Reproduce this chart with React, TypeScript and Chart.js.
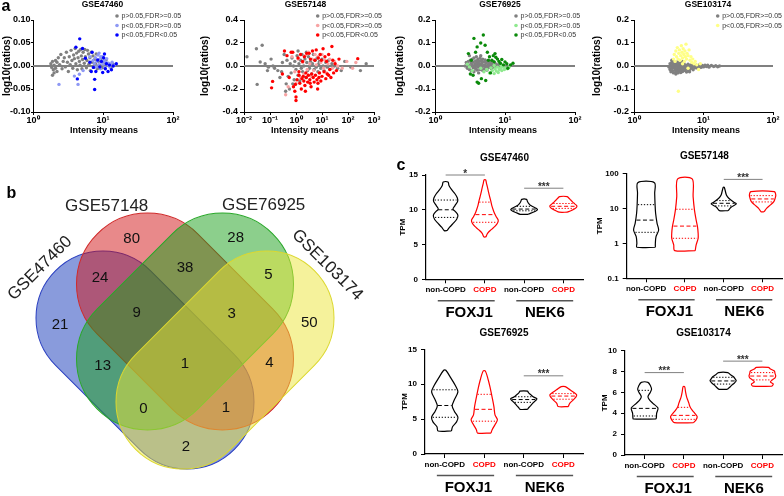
import React, { useEffect, useRef } from 'react';
import { Chart, registerables } from 'chart.js';

Chart.register(...registerables);

const FONT = "'Liberation Sans', Arial, Helvetica, sans-serif";
Chart.defaults.font.family = FONT;

/* ===================== Panel a : scatter data ===================== */
const A_LEGEND = ['p>0.05,FDR>=0.05', 'p<0.05,FDR>=0.05', 'p<0.05,FDR<0.05'];
const A_X_TITLE = 'Intensity means';
const A_Y_TITLE = 'log10(ratios)';

const X_TICKS_NARROW = [1, 10, 100];
const X_LABELS_NARROW = ['10⁰', '10¹', '10²'];
const X_TICKS_WIDE = [0.01, 0.1, 1, 10, 100, 1000];
const X_LABELS_WIDE = ['10⁻²', '10⁻¹', '10⁰', '10¹', '10²', '10³'];
const Y_TICKS_A1 = [-0.1, -0.05, 0, 0.05, 0.1];
const Y_LABELS_A1 = ['-0.10', '-0.05', '0.00', '0.05', '0.10'];
const Y_TICKS_A2 = [-0.4, -0.2, 0, 0.2, 0.4];
const Y_LABELS_A2 = ['-0.4', '-0.2', '0.0', '0.2', '0.4'];
const Y_TICKS_A34 = [-0.2, -0.1, 0, 0.1, 0.2];
const Y_LABELS_A34 = ['-0.2', '-0.1', '0.0', '0.1', '0.2'];

// GSE47460
const GSE47460_NS = [[1.8,0.005],[1.85,-0.003],[1.9,0.01],[1.95,-0.008],[2.0,0.002],[2.0,-0.015],[1.9,-0.02],[2.1,0.012],[2.1,-0.005],[2.2,0.008],[2.2,-0.012],[2.3,0.018],[2.4,0.003],[2.5,0.025],[2.6,-0.006],[2.7,0.01],[2.8,0.018],[2.9,-0.002],[3.0,0.03],[3.1,0.008],[3.2,-0.012],[3.3,0.02],[3.4,0.003],[3.5,0.034],[3.6,0.012],[3.7,-0.005],[3.8,0.024],[3.9,0.016],[4.0,0.038],[4.1,0.005],[4.2,0.028],[4.3,-0.008],[4.4,0.018],[4.5,0.032],[4.6,0.01],[4.7,0.002],[4.8,0.036],[4.9,0.022],[5.0,-0.006],[5.1,0.014],[5.2,0.03],[5.4,0.006],[5.5,0.036],[5.6,0.02],[5.8,-0.004],[5.9,0.012],[6.0,0.034],[6.2,0.026],[6.3,0.004],[6.5,0.018],[6.6,-0.01],[6.8,0.03],[7.0,0.008],[7.2,0.022],[7.4,-0.003],[7.6,0.014],[7.8,0.005],[8.0,0.026],[8.3,-0.006],[8.6,0.01],[9.0,0.002],[9.4,0.016],[9.8,-0.004],[10.5,0.006],[11,0.012],[12,0.002],[13,-0.004],[14,0.004]];
const GSE47460_P = [[2.35,-0.04],[3.9,-0.022],[4.4,-0.04],[4.6,-0.018],[5.2,-0.01],[6.5,0.02],[7.2,0.012],[7.5,0.005],[7.8,0.018],[8.0,-0.002],[8.2,0.01],[8.5,0.024],[8.7,0.003],[9.0,0.015],[9.2,-0.006],[9.5,0.008],[9.8,0.02],[10,0.004],[10.3,0.012],[10.6,-0.003],[11,0.008],[11.3,0.016],[11.7,0.002],[12,0.006],[12.5,-0.002],[13,0.004],[13.5,0.008],[14.5,0.002],[8.8,0.028],[9.3,0.02]];
const GSE47460_FDR = [[4.65,0.059],[4.1,0.041],[5.1,0.038],[4.3,-0.028],[5.6,0.017],[6.5,0.008],[7.0,0.03],[7.3,-0.003],[7.6,-0.029],[7.6,-0.051],[7.9,-0.012],[8.4,0.013],[9.0,-0.002],[9.5,0.01],[9.9,-0.014],[10.2,0.018],[10.8,-0.006],[11.2,0.005],[11.8,-0.012],[12.4,0.002],[13.2,-0.008],[14,0.0],[15.5,0.005],[6.8,-0.012],[10.5,0.026]];

// GSE57148
const GSE57148_NS = [[0.013,0.08],[0.03,0.15],[0.05,0.18],[0.032,-0.16],[0.042,0.035],[0.065,0.02],[0.087,-0.01],[0.08,-0.04],[0.11,0.06],[0.13,0.0],[0.15,-0.02],[0.2,-0.04],[0.24,-0.1],[0.28,-0.05],[0.3,0.03],[0.35,0.1],[0.4,-0.22],[0.42,-0.155],[0.45,0.05],[0.5,-0.09],[0.56,-0.2],[0.6,0.02],[0.65,-0.06],[0.7,0.07],[0.75,-0.155],[0.8,0.0],[0.85,-0.12],[0.9,0.04],[1.0,-0.03],[1.1,0.09],[1.2,-0.08],[1.3,0.02],[1.4,-0.13],[1.5,0.05],[1.6,-0.02],[1.7,0.1],[1.8,-0.05],[2.0,0.0],[2.2,0.06],[2.4,-0.1],[2.6,0.03],[2.8,-0.04],[3.0,0.08],[3.3,-0.02],[3.6,0.04],[4.0,-0.07],[4.3,0.02],[4.7,0.1],[5.0,-0.03],[5.5,0.05],[6.0,-0.01],[6.5,0.07],[7.0,-0.05],[7.5,0.02],[8.0,0.04],[9.0,-0.02],[10,0.06],[11,0.0],[12,-0.04],[14,0.03],[16,-0.01],[18,0.05],[20,-0.03],[24,0.02],[30,0.0],[40,-0.02],[55,-0.04],[75,0.04],[130,-0.01],[300,-0.04],[500,0.02],[2.5,0.12],[1.2,0.13]];
const GSE57148_P = [[0.4,-0.25],[0.5,-0.18],[0.7,0.08],[0.9,-0.05],[1.0,-0.15],[1.2,0.06],[1.5,-0.1],[1.8,0.03],[2.0,-0.07],[2.3,0.09],[2.7,-0.03],[3.0,0.12],[3.4,0.02],[3.8,-0.09],[4.2,0.06],[4.8,-0.04],[5.4,0.1],[6.0,0.01],[7.0,0.08],[8.0,-0.06],[9.0,0.03],[10,0.1],[11.5,-0.02],[13,0.05],[15,-0.06],[17,0.02],[20,0.06],[25,-0.02],[30,0.04],[40,0.0],[60,-0.02],[90,0.04],[150,-0.02],[200,0.03]];
const GSE57148_FDR = [[0.115,-0.19],[0.126,-0.134],[0.3,-0.07],[0.36,0.13],[0.45,0.09],[0.55,-0.1],[0.65,0.12],[0.75,0.12],[0.8,-0.18],[0.9,-0.22],[1.0,-0.27],[1.0,-0.3],[1.1,-0.12],[1.2,0.07],[1.3,-0.08],[1.4,-0.15],[1.5,0.1],[1.6,-0.2],[1.7,-0.11],[1.8,0.04],[1.9,-0.09],[2.0,-0.13],[2.1,0.08],[2.2,-0.17],[2.4,-0.06],[2.5,-0.1],[2.6,0.11],[2.8,-0.14],[3.0,-0.08],[3.2,0.11],[3.4,-0.12],[3.6,0.06],[3.8,-0.18],[4.0,-0.07],[4.3,0.13],[4.6,-0.1],[5.0,-0.14],[5.3,0.05],[5.6,-0.08],[6.0,0.14],[6.4,-0.12],[6.8,-0.2],[7.2,0.07],[7.6,-0.1],[8.0,-0.06],[8.5,0.1],[9.0,-0.13],[9.5,0.05],[10,-0.09],[11,0.15],[12,-0.05],[13,0.08],[14,-0.11],[15,0.04],[16,-0.07],[18,0.1],[20,-0.03],[22,-0.1],[24,0.17],[26,0.05],[28,-0.06],[32,0.02],[36,-0.04],[45,0.06],[237,0.064],[1.3,-0.05],[2.3,-0.22],[0.95,-0.16],[3.5,-0.15],[7,-0.15],[18,-0.08]];

// GSE76925
const GSE76925_NS = [[2.7,0.0],[2.8,0.015],[2.9,-0.01],[3.0,0.02],[3.0,0.005],[3.1,-0.015],[3.2,0.025],[3.2,0.0],[3.3,0.012],[3.3,-0.02],[3.4,0.03],[3.4,0.004],[3.5,-0.008],[3.5,0.018],[3.6,0.035],[3.6,-0.025],[3.7,0.01],[3.7,-0.002],[3.8,0.022],[3.8,-0.012],[3.9,0.04],[3.9,0.006],[4.0,-0.018],[4.0,0.016],[4.1,0.028],[4.1,-0.005],[4.2,0.01],[4.2,-0.03],[4.3,0.02],[4.3,0.0],[4.4,0.035],[4.4,-0.015],[4.5,0.008],[4.6,0.024],[4.6,-0.008],[4.7,0.014],[4.8,-0.02],[4.8,0.03],[4.9,0.002],[5.0,0.018],[5.0,-0.012],[5.2,0.026],[5.2,0.006],[5.3,-0.004],[5.4,0.015],[5.5,-0.018],[5.6,0.022],[5.7,0.004],[5.8,-0.008],[5.9,0.012],[6.0,0.02],[6.1,-0.002],[6.2,0.008],[6.4,-0.012],[6.5,0.014],[6.7,0.002],[6.9,0.018],[7.0,-0.006],[7.3,0.01],[7.6,0.0],[8.0,0.006],[8.5,-0.004],[3.1,0.045],[4.5,0.045]];
const GSE76925_P = [[2.9,0.008],[3.1,-0.004],[3.4,-0.02],[4.5,-0.01],[5.0,-0.025],[5.5,-0.015],[6.0,-0.03],[6.3,-0.008],[6.6,-0.02],[7.0,-0.033],[7.2,-0.012],[7.5,-0.022],[7.8,-0.005],[8.0,-0.028],[8.3,-0.015],[8.6,-0.01],[9.0,-0.02],[9.4,-0.005],[9.8,-0.015],[10.2,-0.008],[10.8,-0.012],[11.5,-0.004],[7.0,0.002],[8.8,0.002]];
const GSE76925_FDR = [[3.0,0.054],[3.3,0.025],[3.5,-0.04],[3.6,0.12],[3.8,0.06],[4.0,0.083],[4.0,-0.07],[4.2,-0.075],[4.5,0.1],[4.9,0.135],[5.2,0.09],[4.6,-0.055],[5.3,-0.063],[5.6,0.06],[6.0,0.04],[6.2,-0.03],[6.5,0.025],[6.8,0.045],[7.2,0.054],[7.4,0.038],[7.8,0.03],[8.2,0.02],[8.6,0.012],[9.0,0.028],[9.5,0.005],[10.0,0.018],[10.6,0.01],[11.0,-0.01],[12.0,0.005],[13.0,0.012],[3.2,-0.035],[5.8,0.025],[7.0,0.018]];

// GSE103174
const GSE103174_NS = [[3.2,-0.005],[3.3,0.01],[3.3,-0.015],[3.4,-0.025],[3.4,0.0],[3.5,0.015],[3.5,-0.01],[3.6,-0.02],[3.6,0.005],[3.7,-0.03],[3.7,0.02],[3.8,-0.008],[3.8,0.008],[3.9,-0.018],[3.9,-0.002],[4.0,0.012],[4.0,-0.025],[4.1,-0.012],[4.1,0.004],[4.2,-0.02],[4.2,0.018],[4.3,-0.006],[4.3,-0.03],[4.4,0.01],[4.4,-0.015],[4.5,0.0],[4.5,-0.022],[4.6,0.008],[4.6,-0.01],[4.7,-0.028],[4.7,0.014],[4.8,-0.004],[4.8,-0.018],[4.9,0.006],[5.0,-0.012],[5.0,-0.024],[5.1,0.002],[5.2,-0.016],[5.2,0.012],[5.3,-0.006],[5.4,-0.02],[5.5,0.004],[5.6,-0.012],[5.7,-0.026],[5.8,0.0],[5.9,-0.014],[6.0,0.008],[6.1,-0.008],[6.2,-0.02],[6.4,0.002],[6.5,-0.012],[6.7,0.006],[6.9,-0.006],[7.1,-0.016],[7.3,0.002],[7.6,-0.008],[7.9,0.004],[8.2,-0.01],[8.5,-0.002],[8.8,0.006],[9.2,-0.006],[9.6,0.002],[10,-0.004],[10.5,0.004],[11,-0.002],[11.5,0.003],[12,-0.005],[13,0.002],[14,-0.002],[15,0.001],[16,-0.003],[17,0.0],[4.0,-0.035],[5.0,0.02],[3.5,0.025],[6.3,-0.025]];
const GSE103174_P = [[3.7,0.03],[3.8,0.05],[3.9,0.02],[4.0,0.065],[4.1,0.04],[4.2,0.08],[4.3,0.03],[4.35,-0.11],[4.4,0.055],[4.5,0.07],[4.6,0.025],[4.7,0.045],[4.8,0.088],[4.9,0.06],[5.0,0.035],[5.1,0.075],[5.2,0.05],[5.3,0.02],[5.4,0.065],[5.5,0.04],[5.6,0.095],[5.7,0.03],[5.8,0.055],[6.0,0.045],[6.2,0.07],[6.4,0.025],[6.6,0.04],[6.8,0.015],[7.0,0.03],[7.3,0.01],[7.6,0.02],[8.0,0.005],[8.5,-0.015],[9.0,0.01],[6.0,-0.01],[5.0,0.01]];

/* ===================== Panel b : Venn data ===================== */
const VENN_SETS = ['GSE47460', 'GSE57148', 'GSE76925', 'GSE103174'];
// regions: A, B, C, D, AB, BC, CD, ABC, BCD, AC, ABCD, BD, ACD, ABD, AD
const VENN_REGIONS = ['A', 'B', 'C', 'D', 'AB', 'BC', 'CD', 'ABC', 'BCD', 'AC', 'ABCD', 'BD', 'ACD', 'ABD', 'AD'];
const VENN_COUNTS = [21, 80, 28, 50, 24, 38, 5, 9, 3, 13, 1, 4, 0, 1, 2];

/* ===================== Panel c : violin data ===================== */
const CATEGORIES = ['non-COPD', 'COPD', 'non-COPD', 'COPD'];
const GENES = ['FOXJ1', 'NEK6'];
const C_Y_TITLE = 'TPM';

const GSE47460_VIOLINS = [
  { levels: [7.0, 7.5, 8.0, 8.6, 9.2, 9.7, 10.1, 10.6, 11.2, 11.7, 12.3, 12.9, 13.5, 14.0], density: [0.1, 0.3, 0.55, 0.82, 0.92, 0.75, 0.55, 0.7, 0.9, 0.88, 0.7, 0.45, 0.25, 0.18], q1: 8.9, median: 10.0, q3: 11.4 },
  { levels: [6.1, 6.6, 7.1, 7.6, 8.1, 8.5, 9.0, 9.5, 10.0, 10.6, 11.2, 11.8, 12.5, 13.2, 13.8, 14.3], density: [0.08, 0.2, 0.45, 0.75, 0.95, 1.0, 0.85, 0.72, 0.62, 0.52, 0.45, 0.37, 0.28, 0.2, 0.12, 0.06], q1: 8.2, median: 9.3, q3: 11.1 },
  { levels: [9.35, 9.55, 9.8, 10.0, 10.15, 10.35, 10.6, 10.9, 11.2, 11.5], density: [0.3, 0.55, 0.85, 1.0, 0.95, 0.75, 0.5, 0.35, 0.25, 0.18], q1: 9.85, median: 10.1, q3: 10.5 },
  { levels: [9.65, 9.9, 10.15, 10.4, 10.6, 10.85, 11.1, 11.4, 11.7, 11.9], density: [0.3, 0.6, 0.85, 1.0, 1.0, 0.85, 0.7, 0.55, 0.4, 0.28], q1: 10.2, median: 10.5, q3: 10.9 },
];
const GSE57148_VIOLINS = [
  { levels: [0.77, 1.0, 1.55, 2.4, 3.7, 7.2, 12.4, 26.8, 54], density: [0.7, 0.7, 0.75, 0.95, 0.83, 0.72, 0.68, 0.65, 0.63], q1: 2.06, median: 4.6, q3: 12.7 },
  { levels: [0.62, 0.9, 1.39, 1.93, 3.0, 4.6, 9, 21.5, 69], density: [0.78, 0.85, 1.0, 1.0, 0.95, 0.85, 0.72, 0.62, 0.55], q1: 1.39, median: 3.1, q3: 9.4 },
  { levels: [8.6, 10.7, 13.3, 14.5, 19.3, 24, 40], density: [0.33, 0.55, 0.95, 0.83, 0.38, 0.2, 0.04], q1: 11.7, median: 13.9, q3: 16.6 },
  { levels: [8.0, 10, 12.5, 15.5, 19.3, 24, 30], density: [0.12, 0.3, 0.6, 0.85, 0.95, 1.0, 0.88], q1: 15.2, median: 18.5, q3: 23 },
];
const GSE76925_VIOLINS = [
  { levels: [3.3, 3.9, 4.6, 5.3, 6.1, 6.9, 7.7, 8.9, 9.7, 10.9, 12.0], density: [0.5, 0.58, 0.88, 0.98, 0.72, 0.55, 0.7, 0.98, 0.82, 0.45, 0.08], q1: 5.26, median: 6.95, q3: 9.2 },
  { levels: [3.0, 3.45, 4.2, 4.9, 5.6, 6.8, 8.2, 9.4, 10.6, 11.9], density: [0.5, 0.58, 0.8, 0.98, 0.8, 0.72, 0.58, 0.45, 0.3, 0.08], q1: 4.7, median: 6.4, q3: 8.55 },
  { levels: [6.4, 6.7, 7.0, 7.3, 7.6, 7.9, 8.2, 8.5, 8.8, 9.0], density: [0.28, 0.4, 0.55, 0.68, 0.85, 0.98, 0.7, 0.52, 0.35, 0.28], q1: 7.4, median: 7.8, q3: 8.2 },
  { levels: [6.8, 7.25, 7.75, 8.1, 8.45, 8.8, 9.2, 9.65], density: [0.38, 0.48, 0.75, 0.92, 1.0, 0.8, 0.5, 0.15], q1: 7.85, median: 8.3, q3: 8.65 },
];
const GSE103174_VIOLINS = [
  { levels: [3.45, 3.6, 4.0, 4.5, 4.95, 5.3, 5.6, 6.0, 6.3, 6.6, 6.96], density: [0.85, 0.88, 0.9, 1.0, 0.62, 0.35, 0.25, 0.42, 0.52, 0.45, 0.25], q1: 3.74, median: 4.47, q3: 6.2 },
  { levels: [3.1, 3.35, 3.67, 4.0, 4.3, 4.65, 4.95, 5.3, 5.6, 6.1, 6.55], density: [0.72, 0.9, 1.0, 0.82, 0.62, 0.45, 0.38, 0.28, 0.2, 0.12, 0.06], q1: 3.42, median: 3.8, q3: 4.57 },
  { levels: [6.3, 6.5, 6.7, 6.9, 7.12, 7.3, 7.5, 7.7, 7.9], density: [0.3, 0.5, 0.65, 0.85, 0.98, 0.9, 0.78, 0.55, 0.35], q1: 6.8, median: 7.1, q3: 7.45 },
  { levels: [6.6, 6.8, 7.0, 7.2, 7.4, 7.6, 7.8, 8.05, 8.25, 8.4], density: [0.72, 0.82, 0.6, 0.75, 0.95, 1.0, 0.95, 0.9, 0.6, 0.45], q1: 7.2, median: 7.57, q3: 7.9 },
];
const GSE47460_SIG = [{ from: 0, to: 1, y: 15, label: '*' }, { from: 2, to: 3, y: 13.1, label: '***' }];
const GSE57148_SIG = [{ from: 2, to: 3, y: 67, label: '***' }];
const GSE76925_SIG = [{ from: 2, to: 3, y: 11.2, label: '***' }];
const GSE103174_SIG = [{ from: 0, to: 1, y: 7.9, label: '***' }, { from: 2, to: 3, y: 9.0, label: '***' }];
const C_Y_TICKS_15 = [0, 5, 10, 15];
const C_Y_TICKS_LOG = [0.1, 1, 10, 100];
const C_Y_LABELS_LOG = ['0.1', '1', '10', '100'];
const C_Y_TICKS_10 = [0, 2, 4, 6, 8, 10];

/* ===================== layout / style ===================== */
const GREY = '#808080';
const RED = '#ff0000';
const A_HEIGHT = 140;

const A_PANELS = [
  { title: 'GSE47460', left: 0, width: 195, area: { l: 33, t: 20, r: 173, b: 112 }, xMin: 1, xMax: 100, xTicks: X_TICKS_NARROW, xLabels: X_LABELS_NARROW, yMin: -0.1, yMax: 0.1, yTicks: Y_TICKS_A1, yLabels: Y_LABELS_A1,
    series: [{ data: GSE47460_NS, color: GREY }, { data: GSE47460_P, color: '#8e98f4' }, { data: GSE47460_FDR, color: '#0000ff' }], titleX: 102.5, xTitleX: 104, yTitleX: 7, legendX: 117, yTickLen: 2, yPad: 0.5 },
  { title: 'GSE57148', left: 195, width: 195, area: { l: 49, t: 20, r: 179, b: 112 }, xMin: 0.01, xMax: 1000, xTicks: X_TICKS_WIDE, xLabels: X_LABELS_WIDE, yMin: -0.4, yMax: 0.4, yTicks: Y_TICKS_A2, yLabels: Y_LABELS_A2,
    series: [{ data: GSE57148_NS, color: GREY }, { data: GSE57148_P, color: '#f7a3a3' }, { data: GSE57148_FDR, color: '#ff0000' }], titleX: 110.5, xTitleX: 110, yTitleX: 10.5, legendX: 122.7, yTickLen: 4, yPad: 2 },
  { title: 'GSE76925', left: 390, width: 195, area: { l: 45, t: 20, r: 185, b: 112 }, xMin: 1, xMax: 100, xTicks: X_TICKS_NARROW, xLabels: X_LABELS_NARROW, yMin: -0.2, yMax: 0.2, yTicks: Y_TICKS_A34, yLabels: Y_LABELS_A34,
    series: [{ data: GSE76925_NS, color: GREY }, { data: GSE76925_P, color: '#8fe98f' }, { data: GSE76925_FDR, color: '#0a8a0a' }], titleX: 110, xTitleX: 113, yTitleX: 10, legendX: 126, yTickLen: 3, yPad: 1.5 },
  { title: 'GSE103174', left: 585, width: 199, area: { l: 49, t: 20, r: 188, b: 112 }, xMin: 1, xMax: 100, xTicks: X_TICKS_NARROW, xLabels: X_LABELS_NARROW, yMin: -0.2, yMax: 0.2, yTicks: Y_TICKS_A34, yLabels: Y_LABELS_A34,
    series: [{ data: GSE103174_NS, color: GREY }, { data: GSE103174_P, color: '#ffff86' }], titleX: 123, xTitleX: 121, yTitleX: 12, legendX: 132.7, yTickLen: 3, yPad: 2 },
];

const VENN_BOX = { left: 0, top: 180, width: 380, height: 316 };
const VENN_SHAPES = [
  { cx: 145, cy: 360, half: 59.4, r: 67, angle: 45, fill: 'rgba(20,55,185,0.5)', stroke: '#2a3fc0' },
  { cx: 185, cy: 321.5, half: 53, r: 71, angle: 45, fill: 'rgba(210,20,22,0.5)', stroke: '#d02a2a' },
  { cx: 185, cy: 321.5, half: 53, r: 71, angle: -45, fill: 'rgba(25,160,25,0.5)', stroke: '#2aa82a' },
  { cx: 225, cy: 360, half: 59.4, r: 67, angle: -45, fill: 'rgba(235,230,55,0.5)', stroke: '#dcd830' },
];
const VENN_SET_LABEL_POS = [{ x: 40, y: 268.3, rot: -45 }, { x: 106.7, y: 206.7, rot: 0 }, { x: 263.7, y: 205.5, rot: 0 }, { x: 327.3, y: 265, rot: 45 }];
const VENN_COUNT_POS = [[60, 325], [131.7, 239.3], [235.7, 237.7], [309.3, 323.3], [100, 278.3], [185, 268.3], [268.3, 275], [136.7, 313.3], [231.7, 314], [102.7, 366], [185, 364], [269.3, 363.3], [143.3, 409.3], [226, 408.3], [186, 446.7]];

const VIOLIN_HALF = 0.34;
const GENE_BARS = [{ from: -0.2, to: 1.25, labelAt: 0.6 }, { from: 1.8, to: 3.25, labelAt: 2.53 }];

const C_PANELS = [
  { title: 'GSE47460', left: 390, top: 140, width: 196, height: 185, area: { l: 36, t: 35, r: 193, b: 139.3 }, log: false, yMin: 0, yMax: 15, yTicks: C_Y_TICKS_15, yLabels: C_Y_TICKS_15.map(String), violins: GSE47460_VIOLINS, sig: GSE47460_SIG, titleY: 18, yTitleX: 13 },
  { title: 'GSE57148', left: 590, top: 140, width: 194, height: 185, area: { l: 36.7, t: 33.3, r: 192, b: 138.3 }, log: true, yMin: 0.1, yMax: 100, yTicks: C_Y_TICKS_LOG, yLabels: C_Y_LABELS_LOG, violins: GSE57148_VIOLINS, sig: GSE57148_SIG, titleY: 16.7, yTitleX: 9.3 },
  { title: 'GSE76925', left: 390, top: 320, width: 196, height: 176, area: { l: 35, t: 29.3, r: 193, b: 134 }, log: false, yMin: 0, yMax: 15, yTicks: C_Y_TICKS_15, yLabels: C_Y_TICKS_15.map(String), violins: GSE76925_VIOLINS, sig: GSE76925_SIG, titleY: 13, yTitleX: 15 },
  { title: 'GSE103174', left: 590, top: 320, width: 194, height: 176, area: { l: 35, t: 30.7, r: 192, b: 135 }, log: false, yMin: 0, yMax: 10, yTicks: C_Y_TICKS_10, yLabels: C_Y_TICKS_10.map(String), violins: GSE103174_VIOLINS, sig: GSE103174_SIG, titleY: 13, yTitleX: 15 },
];

/* ===================== helpers ===================== */
function useChart(build: (c: HTMLCanvasElement) => Chart) {
  const ref = useRef<HTMLCanvasElement>(null);
  useEffect(() => {
    if (!ref.current) return;
    const ch = build(ref.current);
    return () => ch.destroy();
  }, []);
  return ref;
}

function densityAt(v: any, q: number, log: boolean) {
  const f = (t: number) => (log ? Math.log10(t) : t);
  const L = v.levels;
  for (let k = 0; k < L.length - 1; k++) {
    if (q >= L[k] && q <= L[k + 1]) {
      const t = (f(q) - f(L[k])) / (f(L[k + 1]) - f(L[k]));
      return v.density[k] + (v.density[k + 1] - v.density[k]) * t;
    }
  }
  return 0;
}

function violinOutline(v: any, i: number) {
  const pts: any[] = [];
  for (let k = 0; k < v.levels.length; k++) pts.push({ x: i + v.density[k] * VIOLIN_HALF, y: v.levels[k] });
  for (let k = v.levels.length - 1; k >= 0; k--) pts.push({ x: i - v.density[k] * VIOLIN_HALF, y: v.levels[k] });
  pts.push(pts[0]);
  return pts;
}

/* ===================== components ===================== */
function ScatterPanel({ spec }: any) {
  const ref = useChart((canvas) => {
    const s = spec;
    const decor = {
      id: 'decorA',
      afterDraw(chart: any) {
        const { ctx, chartArea: a } = chart;
        ctx.save();
        ctx.fillStyle = '#000';
        ctx.textAlign = 'center';
        ctx.textBaseline = 'middle';
        ctx.font = `bold 8.5px ${FONT}`;
        ctx.fillText(s.title, s.titleX, 5);
        ctx.font = `bold 9px ${FONT}`;
        ctx.fillText(A_X_TITLE, s.xTitleX, 130.5);
        ctx.save();
        ctx.translate(s.yTitleX, (a.top + a.bottom) / 2);
        ctx.rotate(-Math.PI / 2);
        ctx.font = `bold 10px ${FONT}`;
        ctx.fillText(A_Y_TITLE, 0, 0);
        ctx.restore();
        ctx.textAlign = 'left';
        ctx.font = `7px ${FONT}`;
        s.series.forEach((ser: any, i: number) => {
          const y = 16 + i * 9.5;
          ctx.fillStyle = ser.color;
          ctx.beginPath();
          ctx.arc(s.legendX, y, 1.8, 0, Math.PI * 2);
          ctx.fill();
          ctx.fillStyle = '#333';
          ctx.fillText(A_LEGEND[i], s.legendX + 4.5, y + 0.5);
        });
        ctx.restore();
      },
    };
    const datasets: any[] = [
      { type: 'line', data: [{ x: s.xMin, y: 0 }, { x: s.xMax, y: 0 }], borderColor: GREY, borderWidth: 2, pointRadius: 0, order: 10, clip: false },
      ...s.series.map((ser: any, i: number) => ({
        data: ser.data.map((p: number[]) => ({ x: p[0], y: p[1] })),
        backgroundColor: ser.color,
        borderWidth: 0,
        pointRadius: 1.7,
        order: 5 - i,
      })),
    ];
    return new Chart(canvas, {
      type: 'scatter',
      data: { datasets },
      options: {
        animation: false,
        responsive: false,
        events: [],
        layout: { padding: { left: 0, top: s.area.t, right: s.width - s.area.r, bottom: 0 } },
        plugins: { legend: { display: false }, tooltip: { enabled: false } },
        scales: {
          x: {
            type: 'logarithmic', min: s.xMin, max: s.xMax,
            afterBuildTicks: (sc: any) => { sc.ticks = s.xTicks.map((v: number) => ({ value: v })); },
            afterFit: (sc: any) => { sc.height = A_HEIGHT - s.area.b; },
            ticks: { callback: (_v: any, i: number) => s.xLabels[i], font: { size: 9, weight: 'bold' }, color: '#000', padding: 0, maxRotation: 0, autoSkip: false },
            grid: { drawOnChartArea: false, drawTicks: true, tickLength: 3, color: '#000' },
            border: { color: '#000', width: 1 },
          },
          y: {
            min: s.yMin, max: s.yMax,
            afterBuildTicks: (sc: any) => { sc.ticks = s.yTicks.map((v: number) => ({ value: v })); },
            afterFit: (sc: any) => { sc.width = s.area.l; },
            ticks: { callback: (_v: any, i: number) => s.yLabels[i], font: { size: 9, weight: 'bold' }, color: '#000', padding: s.yPad },
            grid: { drawOnChartArea: false, drawTicks: true, tickLength: s.yTickLen, color: '#000' },
            border: { color: '#000', width: 1 },
          },
        },
      },
      plugins: [decor],
    } as any);
  });
  return <canvas ref={ref} width={spec.width} height={A_HEIGHT} style={{ position: 'absolute', left: spec.left, top: 0 }} />;
}

function VennPanel() {
  const ref = useChart((canvas) => {
    const drawer = {
      id: 'venn',
      afterDraw(chart: any) {
        const { ctx } = chart;
        const xs = chart.scales.x;
        const ys = chart.scales.y;
        const unit = xs.getPixelForValue(1) - xs.getPixelForValue(0);
        ctx.save();
        VENN_SHAPES.forEach((sh) => {
          const cx = xs.getPixelForValue(sh.cx);
          const cy = ys.getPixelForValue(sh.cy);
          const L = sh.half * unit;
          const r = sh.r * unit;
          ctx.save();
          ctx.translate(cx, cy);
          ctx.rotate((sh.angle * Math.PI) / 180);
          ctx.beginPath();
          ctx.moveTo(-L, -r);
          ctx.lineTo(L, -r);
          ctx.arc(L, 0, r, -Math.PI / 2, Math.PI / 2);
          ctx.lineTo(-L, r);
          ctx.arc(-L, 0, r, Math.PI / 2, (3 * Math.PI) / 2);
          ctx.closePath();
          ctx.fillStyle = sh.fill;
          ctx.fill();
          ctx.lineWidth = 1;
          ctx.strokeStyle = sh.stroke;
          ctx.stroke();
          ctx.restore();
        });
        ctx.fillStyle = '#111';
        ctx.textAlign = 'center';
        ctx.textBaseline = 'middle';
        ctx.font = `15px ${FONT}`;
        VENN_COUNTS.forEach((n, i) => {
          const p = VENN_COUNT_POS[i];
          ctx.fillText(String(n), xs.getPixelForValue(p[0]), ys.getPixelForValue(p[1]));
        });
        ctx.fillStyle = '#222';
        ctx.font = `17px ${FONT}`;
        VENN_SETS.forEach((name, i) => {
          const p = VENN_SET_LABEL_POS[i];
          ctx.save();
          ctx.translate(xs.getPixelForValue(p.x), ys.getPixelForValue(p.y));
          ctx.rotate((p.rot * Math.PI) / 180);
          ctx.fillText(name, 0, 0);
          ctx.restore();
        });
        ctx.restore();
      },
    };
    return new Chart(canvas, {
      type: 'scatter',
      data: { datasets: [{ data: [] }] },
      options: {
        animation: false,
        responsive: false,
        events: [],
        layout: { padding: 0 },
        plugins: { legend: { display: false }, tooltip: { enabled: false } },
        scales: {
          x: { type: 'linear', min: VENN_BOX.left, max: VENN_BOX.left + VENN_BOX.width, display: false },
          y: { type: 'linear', min: VENN_BOX.top, max: VENN_BOX.top + VENN_BOX.height, reverse: true, display: false },
        },
      },
      plugins: [drawer],
    } as any);
  });
  return <canvas ref={ref} width={VENN_BOX.width} height={VENN_BOX.height} style={{ position: 'absolute', left: VENN_BOX.left, top: VENN_BOX.top }} />;
}

function ViolinPanel({ spec }: any) {
  const ref = useChart((canvas) => {
    const s = spec;
    const ds: any[] = [];
    s.violins.forEach((v: any, i: number) => {
      const col = i % 2 ? RED : '#000';
      ds.push({ data: violinOutline(v, i), borderColor: col, borderWidth: 1.2, tension: 0.3, showLine: true, pointRadius: 0, fill: false, clip: false });
      [[v.q1, 'q'], [v.median, 'm'], [v.q3, 'q']].forEach(([q, k]: any) => {
        const w = densityAt(v, q, s.log) * VIOLIN_HALF * 0.92;
        ds.push({ data: [{ x: i - w, y: q }, { x: i + w, y: q }], borderColor: col, borderWidth: 1, borderDash: k === 'm' ? [4, 2.5] : [1.3, 1.7], showLine: true, pointRadius: 0, clip: false });
      });
    });
    s.sig.forEach((g: any) => {
      ds.push({ data: [{ x: g.from, y: g.y }, { x: g.to, y: g.y }], borderColor: GREY, borderWidth: 1, showLine: true, pointRadius: 0, clip: false });
    });
    const decor = {
      id: 'decorC',
      afterDraw(chart: any) {
        const { ctx, chartArea: a } = chart;
        const xs = chart.scales.x;
        const ys = chart.scales.y;
        ctx.save();
        ctx.fillStyle = '#000';
        ctx.textAlign = 'center';
        ctx.textBaseline = 'middle';
        ctx.font = `bold 10px ${FONT}`;
        ctx.fillText(s.title, (a.left + a.right) / 2, s.titleY);
        ctx.save();
        ctx.translate(s.yTitleX, (a.top + a.bottom) / 2);
        ctx.rotate(-Math.PI / 2);
        ctx.font = `bold 8px ${FONT}`;
        ctx.fillText(C_Y_TITLE, 0, 0);
        ctx.restore();
        // gene grouping bars
        GENE_BARS.forEach((b, gi) => {
          const y = a.bottom + 21.5;
          ctx.strokeStyle = '#555';
          ctx.lineWidth = 1.5;
          ctx.beginPath();
          ctx.moveTo(xs.getPixelForValue(b.from), y);
          ctx.lineTo(xs.getPixelForValue(b.to), y);
          ctx.stroke();
          ctx.fillStyle = '#000';
          ctx.font = `bold 15px ${FONT}`;
          ctx.fillText(GENES[gi], xs.getPixelForValue(b.labelAt), a.bottom + 34);
        });
        // significance stars
        ctx.font = `bold 10px ${FONT}`;
        ctx.fillStyle = '#333';
        ctx.textBaseline = 'alphabetic';
        s.sig.forEach((g: any) => {
          const x = (xs.getPixelForValue(g.from) + xs.getPixelForValue(g.to)) / 2;
          ctx.fillText(g.label, x, ys.getPixelForValue(g.y) + 1.5);
        });
        ctx.restore();
      },
    };
    return new Chart(canvas, {
      type: 'scatter',
      data: { datasets: ds },
      options: {
        animation: false,
        responsive: false,
        events: [],
        layout: { padding: { left: 0, top: s.area.t, right: s.width - s.area.r, bottom: 0 } },
        plugins: { legend: { display: false }, tooltip: { enabled: false } },
        scales: {
          x: {
            type: 'linear', min: -0.5, max: 3.5,
            afterBuildTicks: (sc: any) => { sc.ticks = [0, 1, 2, 3].map((v) => ({ value: v })); },
            afterFit: (sc: any) => { sc.height = s.height - s.area.b; },
            ticks: { callback: (_v: any, i: number) => CATEGORIES[i], color: (c: any) => (c.index % 2 ? RED : '#000'), font: { size: 8, weight: 'bold' }, padding: 2, maxRotation: 0, autoSkip: false },
            grid: { drawOnChartArea: false, drawTicks: true, tickLength: 4, color: '#000' },
            border: { color: '#000', width: 1.2 },
          },
          y: {
            type: s.log ? 'logarithmic' : 'linear', min: s.yMin, max: s.yMax,
            afterBuildTicks: (sc: any) => { sc.ticks = s.yTicks.map((v: number) => ({ value: v })); },
            afterFit: (sc: any) => { sc.width = s.area.l; },
            ticks: { callback: (_v: any, i: number) => s.yLabels[i], font: { size: 8, weight: 'bold' }, color: '#000', padding: 4 },
            grid: { drawOnChartArea: false, drawTicks: true, tickLength: 4, color: '#000' },
            border: { color: '#000', width: 1.2 },
          },
        },
      },
      plugins: [decor],
    } as any);
  });
  return <canvas ref={ref} width={spec.width} height={spec.height} style={{ position: 'absolute', left: spec.left, top: spec.top }} />;
}

const LETTERS = [
  { t: 'a', left: 1.5, top: -2.5 },
  { t: 'b', left: 6.5, top: 185 },
  { t: 'c', left: 396.5, top: 156.5 },
];

export default function App() {
  return (
    <div style={{ position: 'absolute', left: 0, top: 0, width: 784, height: 496, background: '#fff', overflow: 'hidden' }}>
      {A_PANELS.map((p) => <ScatterPanel key={p.title} spec={p} />)}
      <VennPanel />
      {C_PANELS.map((p) => <ViolinPanel key={p.title} spec={p} />)}
      {LETTERS.map((l) => (
        <div key={l.t} style={{ position: 'absolute', left: l.left, top: l.top, font: `bold 16px ${FONT}`, lineHeight: '16px', color: '#000' }}>{l.t}</div>
      ))}
    </div>
  );
}
